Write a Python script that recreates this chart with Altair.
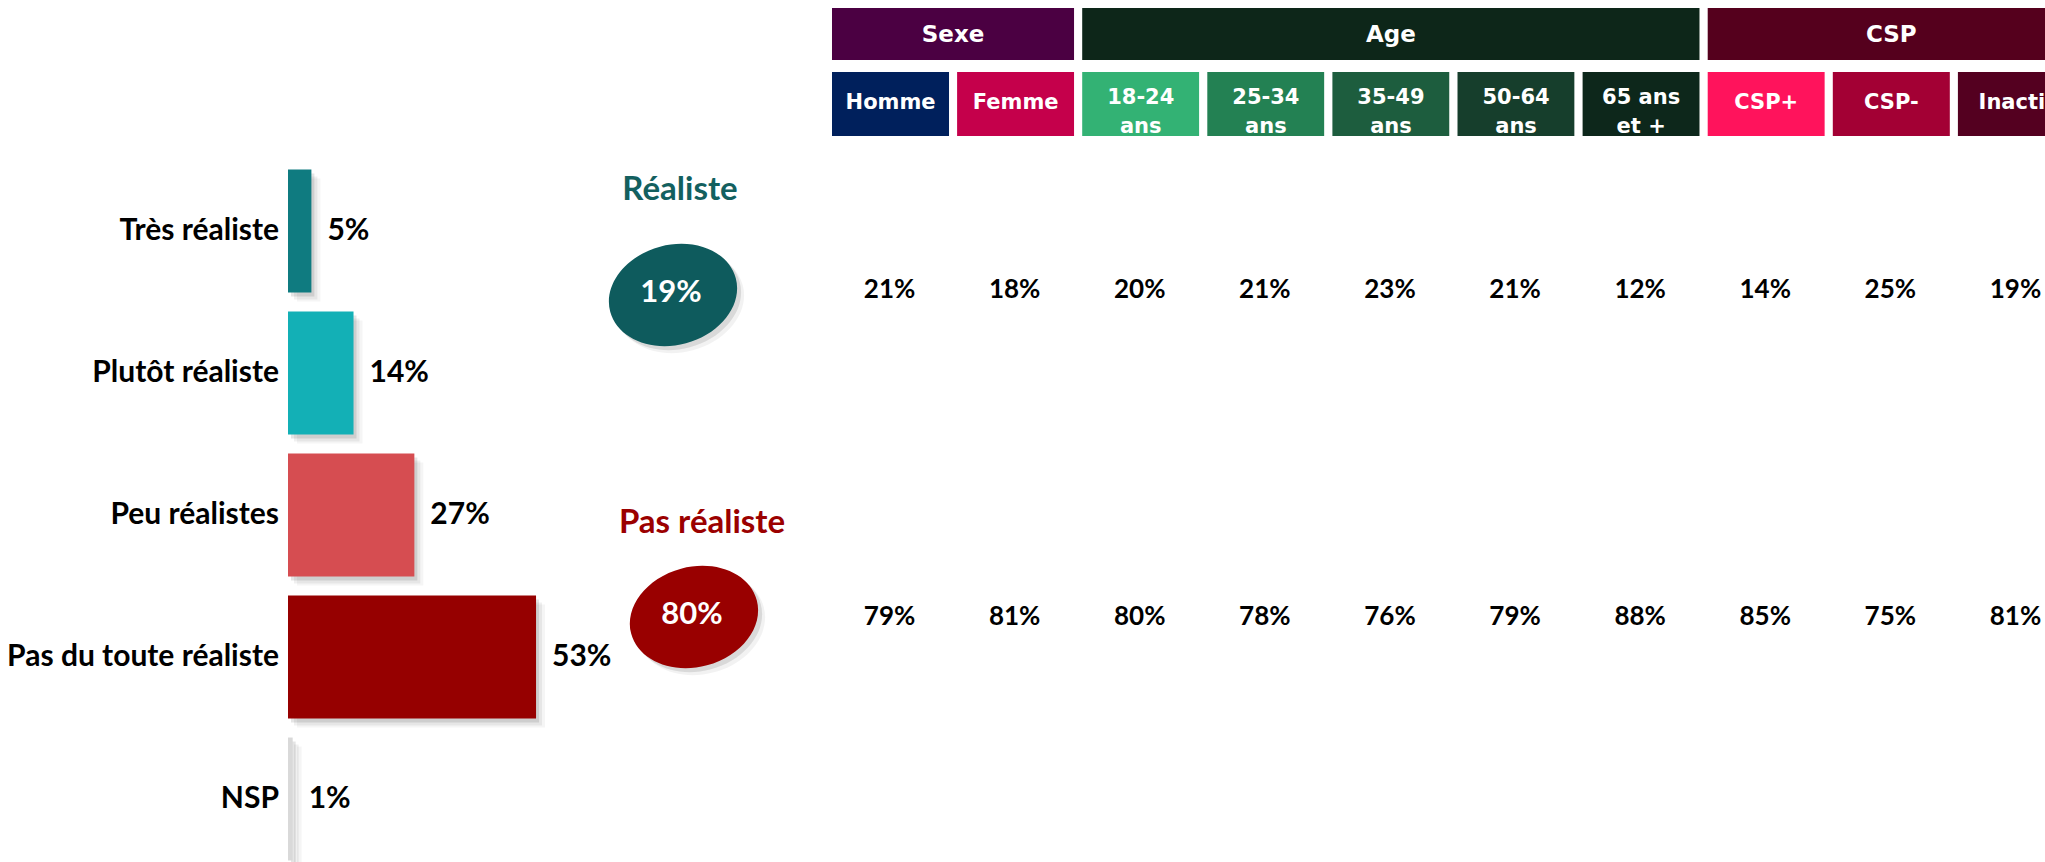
import altair as alt
import pandas as pd

# ---------------- data ----------------
categories = ["Très réaliste", "Plutôt réaliste", "Peu réalistes", "Pas du toute réaliste", "NSP"]
values = [5, 14, 27, 53, 1]
bar_colors = ["#0f7b80", "#13b0b6", "#d64d51", "#960000", "#d9d9d9"]

groups = ["Réaliste", "Pas réaliste"]
group_totals = [19, 80]
group_colors = ["#0e5b5d", "#990000"]
title_colors = ["#13605f", "#9b0000"]

segments = ["Homme", "Femme", "18-24\nans", "25-34\nans", "35-49\nans", "50-64\nans",
            "65 ans\net +", "CSP+", "CSP-", "Inactif"]
segment_colors = ["#00205c", "#c5004b", "#33b274", "#238153", "#1d5d3e", "#163e2c",
                  "#0d271b", "#ff135c", "#a30034", "#540020"]
realiste_by_segment = [21, 18, 20, 21, 23, 21, 12, 14, 25, 19]
pas_realiste_by_segment = [79, 81, 80, 78, 76, 79, 88, 85, 75, 81]

header_groups = ["Sexe", "Age", "CSP"]
header_first = [0, 2, 7]
header_count = [2, 5, 3]
header_colors = ["#4b0042", "#0d2619", "#55001d"]

FONT = "Lato"
HFONT = "DejaVu Sans"

# ---------------- tables ----------------
bars_df = pd.DataFrame({"cat": categories, "val": values,
                        "label": [f"{v}%" for v in values]})
ell_df = pd.DataFrame({"group": groups, "total": group_totals,
                       "label": [f"{v}%" for v in group_totals]})
rows = []
for i, seg in enumerate(segments):
    rows.append({"seg": seg, "pos": i + 0.5, "group": groups[0], "label": f"{realiste_by_segment[i]}%"})
    rows.append({"seg": seg, "pos": i + 0.5, "group": groups[1], "label": f"{pas_realiste_by_segment[i]}%"})
tbl_df = pd.DataFrame(rows)
sub_df = pd.DataFrame({"seg": segments,
                       "start": list(range(len(segments))),
                       "end": [i + 1 for i in range(len(segments))],
                       "mid": [i + 0.5 for i in range(len(segments))],
                       "multi": ["\n" in s for s in segments],
                       "row": ["sous"] * len(segments)})
grp_df = pd.DataFrame({"grp": header_groups,
                       "start": header_first,
                       "end": [f + c for f, c in zip(header_first, header_count)],
                       "mid": [f + c / 2 for f, c in zip(header_first, header_count)],
                       "row": ["groupe"] * len(header_groups)})

# ---------------- bars ----------------
bx = alt.X("val:Q", scale=alt.Scale(domain=[0, 100], range=[288, 756]), axis=None)
by = alt.Y("cat:N", scale=alt.Scale(domain=categories, range=[160, 870],
                                    paddingInner=0.134, paddingOuter=0.067), axis=None)
bcol = alt.Color("cat:N", scale=alt.Scale(domain=categories, range=bar_colors), legend=None)

base_b = alt.Chart(bars_df)
sh3 = base_b.mark_bar(color="black", opacity=0.04, xOffset=9, yOffset=9).encode(x=bx, y=by)
sh2 = base_b.mark_bar(color="black", opacity=0.06, xOffset=6, yOffset=7).encode(x=bx, y=by)
sh1 = base_b.mark_bar(color="black", opacity=0.10, xOffset=3, yOffset=4).encode(x=bx, y=by)
bars = base_b.mark_bar().encode(x=bx, y=by, color=bcol)
blabels = base_b.mark_text(align="left", baseline="middle", dx=16, font=FONT,
                           fontSize=30, fontWeight="bold", color="black").encode(
    x=bx, y=by, text="label:N")
cats = base_b.mark_text(align="right", baseline="middle", dx=-9, font=FONT,
                        fontSize=30, fontWeight="bold", color="black").encode(
    x=alt.datum(0), y=by, text="cat:N")
bar_layer = alt.layer(sh3, sh2, sh1, bars, blabels, cats)

# ---------------- ellipses ----------------
r = 0.77
k = 0.5523
ELLIPSE = (f"M1,0 C1,{k*r:.4f} {k:.4f},{r} 0,{r} C{-k:.4f},{r} -1,{k*r:.4f} -1,0 "
           f"C-1,{-k*r:.4f} {-k:.4f},{-r} 0,{-r} C{k:.4f},{-r} 1,{-k*r:.4f} 1,0 Z")
ESIZE = 16900
EANGLE = 345
ex = alt.X("group:N", scale=alt.Scale(type="point", domain=groups, range=[673, 694], padding=0), axis=None)
ey = alt.Y("group:N", scale=alt.Scale(type="point", domain=groups, range=[295, 617], padding=0), axis=None)
base_e = alt.Chart(ell_df)
esh2 = base_e.mark_point(shape=ELLIPSE, size=ESIZE, filled=True, color="black", opacity=0.05,
                         angle=EANGLE, strokeWidth=0, xOffset=7, yOffset=7).encode(x=ex, y=ey)
esh1 = base_e.mark_point(shape=ELLIPSE, size=ESIZE, filled=True, color="black", opacity=0.10,
                         angle=EANGLE, strokeWidth=0, xOffset=4, yOffset=4).encode(x=ex, y=ey)
ell = base_e.mark_point(shape=ELLIPSE, size=ESIZE, filled=True, opacity=1,
                        angle=EANGLE, strokeWidth=0).encode(
    x=ex, y=ey,
    color=alt.Color("group:N", scale=alt.Scale(domain=groups, range=group_colors), legend=None))
etext = base_e.mark_text(align="center", baseline="middle", font=FONT, fontSize=31,
                         fontWeight="bold", color="white", dx=-2, dy=-2).encode(x=ex, y=ey, text="label:N")
ell_layer = alt.layer(esh2, esh1, ell, etext)

tx = alt.X("group:N", scale=alt.Scale(type="point", domain=groups, range=[680, 702], padding=0), axis=None)
ty = alt.Y("group:N", scale=alt.Scale(type="point", domain=groups, range=[190, 523], padding=0), axis=None)
titles = alt.Chart(ell_df).mark_text(align="center", baseline="middle", font=FONT, fontSize=33,
                                     fontWeight="bold").encode(
    x=tx, y=ty, text="group:N",
    color=alt.Color("group:N", scale=alt.Scale(domain=groups, range=title_colors), legend=None))

# ---------------- table ----------------
col_scale = alt.Scale(domain=[0, 10], range=[828, 2079])
vy = alt.Y("group:N", scale=alt.Scale(type="point", domain=groups, range=[290, 617], padding=0), axis=None)
tbl = alt.Chart(tbl_df).mark_text(align="center", baseline="middle", dx=-1, font=FONT, fontSize=26,
                                  fontWeight="bold", color="black").encode(
    x=alt.X("pos:Q", scale=col_scale, axis=None), y=vy, text="label:N")

gy = alt.Y("row:N", scale=alt.Scale(domain=["groupe"], range=[4, 64], paddingInner=0, paddingOuter=0), axis=None)
grp_rect = alt.Chart(grp_df).mark_rect(stroke="white", strokeWidth=8).encode(
    x=alt.X("start:Q", scale=col_scale, axis=None), x2="end:Q", y=gy,
    color=alt.Color("grp:N", scale=alt.Scale(domain=header_groups, range=header_colors), legend=None))
grp_text = alt.Chart(grp_df).mark_text(align="center", baseline="middle", font=HFONT, fontSize=23,
                                       fontWeight="bold", color="white", dy=1).encode(
    x=alt.X("mid:Q", scale=col_scale, axis=None), y=gy, text="grp:N")
grp_layer = alt.layer(grp_rect, grp_text)

sy = alt.Y("row:N", scale=alt.Scale(domain=["sous"], range=[68, 140], paddingInner=0, paddingOuter=0), axis=None)
sub_rect = alt.Chart(sub_df).mark_rect(stroke="white", strokeWidth=8).encode(
    x=alt.X("start:Q", scale=col_scale, axis=None), x2="end:Q", y=sy,
    color=alt.Color("seg:N", scale=alt.Scale(domain=segments, range=segment_colors), legend=None))
sub_text1 = alt.Chart(sub_df).transform_filter("!datum.multi").mark_text(
    align="center", baseline="middle", font=HFONT, fontSize=21, dy=-1,
    fontWeight="bold", color="white").encode(
    x=alt.X("mid:Q", scale=col_scale, axis=None), y=sy, text="seg:N")
sub_text2 = alt.Chart(sub_df).transform_filter("datum.multi").mark_text(
    align="center", baseline="middle", font=HFONT, fontSize=21, dy=-6,
    fontWeight="bold", color="white", lineBreak="\n", lineHeight=29).encode(
    x=alt.X("mid:Q", scale=col_scale, axis=None), y=sy, text="seg:N")
sub_layer = alt.layer(sub_rect, sub_text1, sub_text2)

chart = alt.layer(bar_layer, ell_layer, titles, tbl, grp_layer, sub_layer).resolve_scale(
    x="independent", y="independent", color="independent"
).properties(
    width=2045, height=862, padding=0, autosize=alt.AutoSizeParams(type="none")
).configure_view(strokeWidth=0)

chart.save("out.html", embed_options={"renderer": "svg", "actions": False})
